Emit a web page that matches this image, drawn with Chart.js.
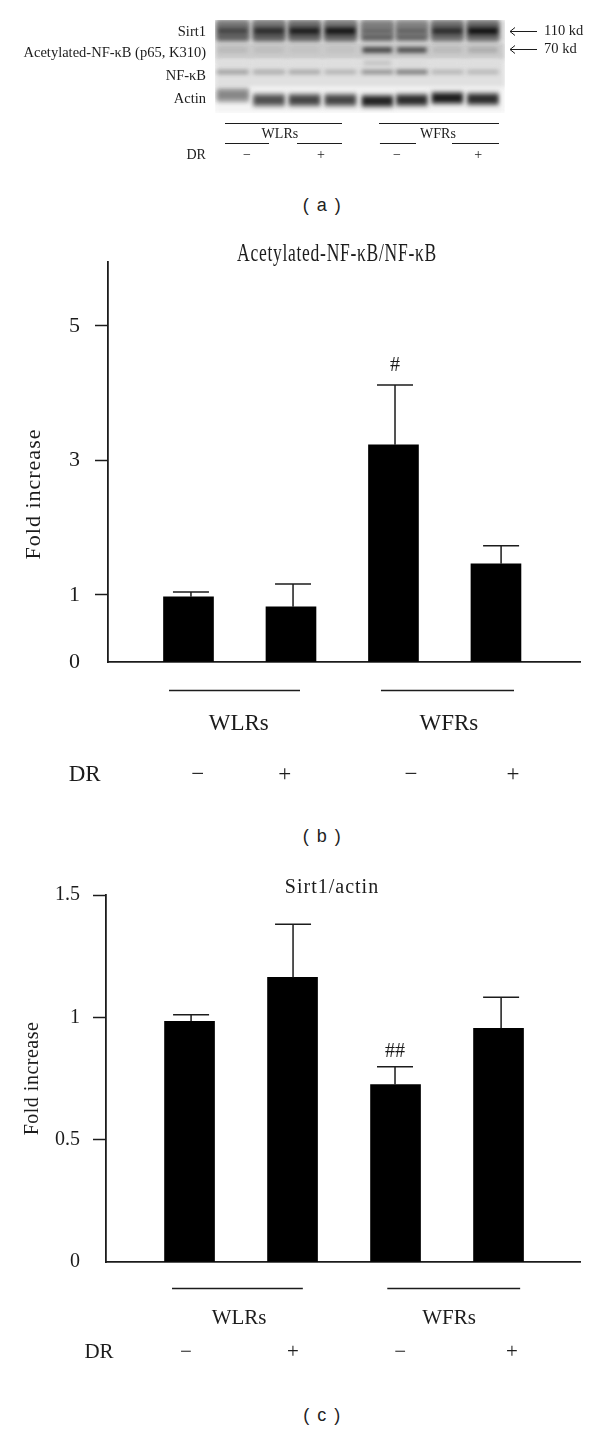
<!DOCTYPE html>
<html><head><meta charset="utf-8">
<script src="https://cdn.jsdelivr.net/npm/chart.js@4/dist/chart.umd.js"></script>
<style>
html,body{margin:0;padding:0;background:#fff;overflow:hidden}
#page{position:relative;width:600px;height:1431px;overflow:hidden}
canvas{position:absolute;left:0;display:block}
.cap{position:absolute;left:0;width:600px;text-align:center;font:18px "Liberation Sans",sans-serif;letter-spacing:1.5px;color:#222;white-space:pre;padding-left:45px;box-sizing:border-box}
</style></head><body>
<div id="page">
<canvas id="a" width="600" height="180" style="top:0"></canvas>
<div class="cap" style="top:195px">( a )</div>
<canvas id="b" width="600" height="570" style="top:230px"></canvas>
<div class="cap" style="top:826px">( b )</div>
<canvas id="c" width="600" height="510" style="top:860px"></canvas>
<div class="cap" style="top:1405px">( c )</div>
</div>
<script>
// ---------- panel (a): western blot band densities (grey level per lane) ----------
const blotLanes = [0.49,1.49,2.47,3.46,4.48,5.43,6.41,7.39];
const blotRowLabels = ['Sirt1','Acetylated-NF-κB (p65, K310)','NF-κB','Actin'];
const blotRowTicks = [12,33,56,79];
const blotSizeTicks = [11,29];
const blotSizeLabels = ['110 kd','70 kd'];
const sirt1Lane = [150,140,140,140,160,165,150,145];
const sirt1Top  = [120,120,110,120,125,130,110,105];
const sirt1Main = [70,45,30,22,105,100,45,18];
const sirt1Low  = [85,85,90,90,80,85,100,95];
const acetylBand = [182,186,192,192,55,65,182,168];
const nfkbBand   = [150,165,160,172,135,110,175,178];
const nfkbUpper  = [222,222,222,222,190,218,222,222];
const actinHalo  = [190,195,195,195,195,195,195,195];
const actinBand  = [135,80,70,70,35,45,30,45];
const actinY     = [75,80,80,80,81,80,78,79];
const blotGroupPos = [1.79,6.15];
const blotGroupLabels = ['WLRs','WFRs'];
const blotSignPos = [0.88,2.92,5.02,7.26];
const signLabels = ['−','+','−','+'];
const blotDrPos = -0.52;
const blotRules = [[0.276,3.503,103],[4.524,7.834,103],[0.276,1.49,123],[2.262,3.503,123],[4.55,5.545,123],[6.538,7.834,123]];

// ---------- panel (b) ----------
const bTitle = 'Acetylated-NF-κB/NF-κB';
const barPosB = [1,2,3,4];
const errPosB = [1.024,2.02,3.015,4.05];
const valuesB = [0.97,0.82,3.23,1.46];
const errTopB = [1.04,1.16,4.12,1.73];
const marksB  = ['','','#',''];
const yTicksB = [0,1,3,5];
const signPosB = [1.09,1.94,3.17,4.166];
const groupPosB = [1.49,3.54];
const groupLabels = ['WLRs','WFRs'];
const drPosB = -0.013;
const rulesB = [[0.81,2.088,-0.417],[2.878,4.176,-0.417]];

// ---------- panel (c) ----------
const cTitle = 'Sirt1/actin';
const barPosC = [1,2,3,4];
const errPosC = [1.015,2.005,2.995,4.025];
const valuesC = [0.984,1.163,0.725,0.955];
const errTopC = [1.011,1.38,0.798,1.082];
const marksC  = ['','','##',''];
const yTicksC = [0,0.5,1,1.5];
const signPosC = [0.966,2.005,3.044,4.131];
const groupPosC = [1.481,3.519];
const drPosC = 0.121;
const rulesC = [[0.83,2.1,-0.108],[2.92,4.21,-0.108]];

const SERIF = '"Liberation Serif",serif';
const INK = '#1c1c1c';
const noPad = s=>{s.paddingLeft=s.paddingRight=s.paddingTop=s.paddingBottom=0;};

function xTickList(signPos, groupPos, groupLab, drPos){
  const t = [];
  signPos.forEach((p,i)=>t.push({value:p, lines:['',signLabels[i]]}));
  groupPos.forEach((p,i)=>t.push({value:p, lines:[groupLab[i],'']}));
  t.push({value:drPos, lines:['','DR']});
  return t;
}
function xAxis(min,max,height,list,font,lineH,pad){
  return {type:'linear',min,max,offset:false,grid:{display:false,offset:false},
    border:{display:false},
    afterFit:s=>{s.height=height;noPad(s);},
    afterBuildTicks:s=>{s.ticks=list.map(t=>({value:t.value}));},
    ticks:{autoSkip:false,maxRotation:0,minRotation:0,padding:pad,color:INK,
      font:{family:SERIF,size:font,lineHeight:lineH+'px'},
      callback:(v,i)=>list[i].lines}};
}
function spaced(obj,key,ctx,sp){
  if(!obj||obj['_sp'+key]||!sp)return;
  const f=obj[key];obj['_sp'+key]=true;
  obj[key]=function(...a){ctx.save();ctx.letterSpacing=sp+'px';f.apply(this,a);ctx.restore();};
}
const annotate = {
  id:'annotate',
  afterLayout(chart,a,o){
    const t=chart.titleBlock;
    if(t&&o.titleX){t.left=o.titleX-100;t.right=o.titleX+100;spaced(t,'draw',chart.ctx,o.titleSpacing);}
    const s=chart.scales.y;
    if(o.yTitleShift&&!s._shifted){
      const f=s.drawTitle;s._shifted=true;
      s.drawTitle=function(){const c=this.ctx;c.save();c.translate(0,o.yTitleShift);f.call(this);c.restore();};
    }
    spaced(s,'drawTitle',chart.ctx,o.yTitleSpacing);
  },
  afterDatasetsDraw(chart,a,o){
    const {ctx,scales:{x,y}}=chart;
    ctx.save();
    ctx.strokeStyle=INK;ctx.fillStyle=INK;ctx.lineWidth=o.lineWidth||1.5;
    (o.rules||[]).forEach(r=>{
      const py=Math.round(y.getPixelForValue(r[2]))+0.5;
      ctx.beginPath();ctx.moveTo(x.getPixelForValue(r[0]),py);ctx.lineTo(x.getPixelForValue(r[1]),py);ctx.stroke();
    });
    (o.err||[]).forEach(e=>{
      const px=x.getPixelForValue(e.x),p0=y.getPixelForValue(e.y0),p1=y.getPixelForValue(e.y1);
      ctx.beginPath();ctx.moveTo(px,p0);ctx.lineTo(px,p1);
      ctx.moveTo(px-o.cap,p1);ctx.lineTo(px+o.cap,p1);ctx.stroke();
      if(e.mark){
        ctx.font=o.markFont;ctx.textAlign='center';ctx.textBaseline='bottom';
        ctx.fillText(e.mark,px,p1-o.markGap);
      }
    });
    (o.arrows||[]).forEach(v=>{
      const py=Math.round(chart.scales.y2.getPixelForValue(v))+0.5;
      const r=chart.chartArea.right;
      ctx.lineWidth=1;
      ctx.beginPath();ctx.moveTo(r+32,py);ctx.lineTo(r+5,py);
      ctx.moveTo(r+10,py-4);ctx.lineTo(r+5,py);ctx.lineTo(r+10,py+4);ctx.stroke();
    });
    ctx.restore();
  }
};
function barPanel(id,cfg){
  new Chart(document.getElementById(id),{
    type:'bar',
    plugins:[annotate],
    data:{datasets:[{
      data:cfg.pos.map((p,i)=>({x:p,y:cfg.values[i]})),
      backgroundColor:'#000',borderWidth:0,barThickness:cfg.barW,grouped:false}]},
    options:{
      responsive:false,animation:false,devicePixelRatio:1,
      layout:{padding:{left:0,right:cfg.padRight,top:0,bottom:0}},
      plugins:{
        legend:{display:false},tooltip:{enabled:false},
        title:{display:true,text:cfg.title,color:INK,fullSize:false,
          font:{family:SERIF,size:cfg.titleSize,weight:'normal',lineHeight:cfg.titleSize+'px'},
          padding:cfg.titlePad},
        annotate:{titleX:cfg.titleX,titleSpacing:cfg.titleSpacing,yTitleSpacing:cfg.yTitleSpacing,yTitleShift:cfg.yTitleShift,rules:cfg.rules,cap:cfg.cap,
          markFont:cfg.markSize+'px '+SERIF,markGap:cfg.markGap,
          err:cfg.errPos.map((p,i)=>({x:p,y0:cfg.values[i],y1:cfg.errTop[i],mark:cfg.marks[i]}))}
      },
      scales:{
        x:Object.assign(xAxis(cfg.xMin,cfg.xMax,cfg.axisH,cfg.xTicks,cfg.tickFont,cfg.lineH,cfg.xPad),
          {border:{display:true,color:INK,width:1.8}}),
        y:{type:'linear',min:0,max:cfg.yMax,
          afterFit:s=>{s.width=cfg.yW;noPad(s);},
          afterBuildTicks:s=>{s.ticks=cfg.yTicks.map(v=>({value:v}));},
          border:{display:true,color:INK,width:1.8},
          grid:{drawOnChartArea:false,drawTicks:true,tickLength:13,tickWidth:1.5,
            tickColor:c=>c.tick&&c.tick.value===0?'rgba(0,0,0,0)':INK},
          ticks:{padding:cfg.yPad,color:INK,font:{family:SERIF,size:cfg.yFont},callback:v=>String(v)},
          title:{display:true,text:'Fold increase',color:INK,
            font:{family:SERIF,size:cfg.yTitleSize},padding:{top:cfg.yTitleTop,bottom:0}}}
      }
    }
  });
}
barPanel('b',{title:bTitle,titleSize:25,titleSpacing:1,titlePad:{top:12,bottom:-5},titleX:337,
  pos:barPosB,values:valuesB,errPos:errPosB,errTop:errTopB,marks:marksB,barW:50,
  xMin:0.2146,xMax:4.82,yMax:5.95,yTicks:yTicksB,yW:108,padRight:20,axisH:138,
  xTicks:xTickList(signPosB,groupPosB,groupLabels,drPosB),tickFont:23,lineH:51,xPad:28,
  yPad:15,yFont:22,yTitleSize:22,yTitleSpacing:1,yTitleTop:21,yTitleShift:32,rules:rulesB,cap:18,markSize:20,markGap:9});
barPanel('c',{title:cTitle,titleSize:20,titleSpacing:1,titlePad:{top:18,bottom:-3},titleX:332,
  pos:barPosC,values:valuesC,errPos:errPosC,errTop:errTopC,marks:marksC,barW:50,
  xMin:0.189,xMax:4.791,yMax:1.5,yTicks:yTicksC,yW:106,padRight:20,axisH:108,
  xTicks:xTickList(signPosC,groupPosC,groupLabels,drPosC),tickFont:21,lineH:34,xPad:31,
  yPad:13,yFont:20,yTitleSize:20,yTitleSpacing:0.5,yTitleTop:21,yTitleShift:0,rules:rulesC,cap:18,markSize:20,markGap:5});

// ---------- blot chart ----------
function grey(g){return 'rgb('+g+','+g+','+g+')';}
function bandSet(ys,h,greys,w){
  return {data:blotLanes.map((x,i)=>{const c=Array.isArray(ys)?ys[i]:ys;return {x,y:[c-h/2,c+h/2]};}),
    backgroundColor:greys.map(grey),barThickness:w,borderWidth:0,grouped:false};
}
function rowSet(y0,y1,g){
  return {data:[{x:4,y:[y0,y1]}],backgroundColor:grey(g),barThickness:290,borderWidth:0,grouped:false};
}
const blur={id:'blur',
  beforeDatasetsDraw(c){c.ctx.save();c.ctx.filter='blur(2px)';},
  afterDatasetsDraw(c){c.ctx.restore();}};
new Chart(document.getElementById('a'),{
  type:'bar',
  plugins:[blur,annotate],
  data:{datasets:[
    bandSet(11,7,sirt1Main,30),
    bandSet(17,4,sirt1Low,30),
    bandSet(5,6,sirt1Top,30),
    bandSet(11,22,sirt1Lane,32),
    bandSet(30,4.5,acetylBand,29),
    bandSet(52,3.5,nfkbBand,31),
    bandSet(43,3.5,nfkbUpper,27),
    bandSet(actinY,9,actinBand,30),
    bandSet(actinY,15,actinHalo,32),
    rowSet(0,22,212),rowSet(22,40,203),rowSet(40,67,224),rowSet(67,93,244)
  ]},
  options:{
    responsive:false,animation:false,devicePixelRatio:1,
    layout:{padding:{top:20,left:0,right:0,bottom:0}},
    plugins:{legend:{display:false},tooltip:{enabled:false},title:{display:false},
      annotate:{rules:blotRules,lineWidth:1.2,arrows:blotSizeTicks}},
    scales:{
      x:xAxis(0,8,67,xTickList(blotSignPos,blotGroupPos,blotGroupLabels,blotDrPos),14,21,2.5),
      y:{type:'linear',min:0,max:93,reverse:true,position:'left',
        afterFit:s=>{s.width=215;noPad(s);},
        afterBuildTicks:s=>{s.ticks=blotRowTicks.map(v=>({value:v}));},
        border:{display:false},grid:{display:false},
        ticks:{padding:1,color:INK,font:{family:SERIF,size:14.5},callback:(v,i)=>blotRowLabels[i]}},
      y2:{type:'linear',min:0,max:93,reverse:true,position:'right',
        afterFit:s=>{s.width=95;noPad(s);},
        afterBuildTicks:s=>{s.ticks=blotSizeTicks.map(v=>({value:v}));},
        border:{display:false},
        grid:{drawOnChartArea:false,drawTicks:true,tickLength:0,color:'rgba(0,0,0,0)'},
        ticks:{padding:39,color:INK,font:{family:SERIF,size:14.5},callback:(v,i)=>blotSizeLabels[i]}}
    }
  }
});
</script></body></html>
